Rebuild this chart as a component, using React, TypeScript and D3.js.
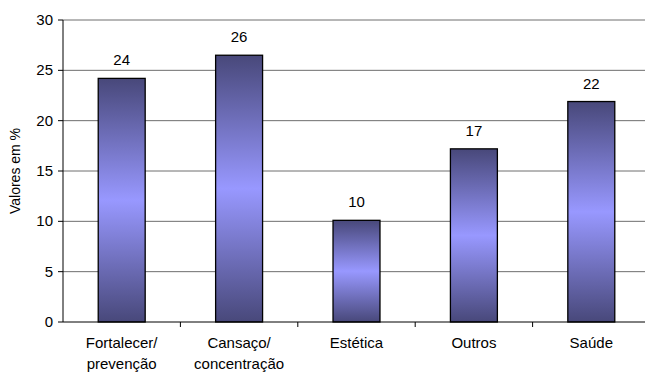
import React, { useRef, useEffect } from 'react';
import * as d3 from 'd3';

const categories: string[][] = [
  ['Fortalecer/', 'prevenção'],
  ['Cansaço/', 'concentração'],
  ['Estética'],
  ['Outros'],
  ['Saúde'],
];
const values = [24.2, 26.5, 10.1, 17.2, 21.9];
const valueLabels = ['24', '26', '10', '17', '22'];
const yTicks = [0, 5, 10, 15, 20, 25, 30];

const WIDTH = 645;
const HEIGHT = 372;

export default function App() {
  const svgRef = useRef<SVGSVGElement>(null);

  useEffect(() => {
    if (!svgRef.current) return;
    const svg = d3.select(svgRef.current);
    svg.selectAll('*').remove();

    const left = 63;
    const right = 650;
    const top = 20;
    const bottom = 322;
    const font = 'Liberation Sans, Arial, sans-serif';
    const fs = 15;

    const x = d3
      .scaleBand<number>()
      .domain(categories.map((_, i) => i))
      .range([left, right])
      .paddingInner(0.6)
      .paddingOuter(0.3);

    const y = d3.scaleLinear().domain([0, 30]).range([bottom, top]);

    // gradient for bars
    const defs = svg.append('defs');
    const grad = defs
      .append('linearGradient')
      .attr('id', 'barGrad')
      .attr('x1', 0)
      .attr('y1', 0)
      .attr('x2', 0)
      .attr('y2', 1);
    grad.append('stop').attr('offset', '0%').attr('stop-color', '#48487a');
    grad.append('stop').attr('offset', '50%').attr('stop-color', '#9898ff');
    grad.append('stop').attr('offset', '100%').attr('stop-color', '#48487a');

    // grid lines
    svg
      .append('g')
      .selectAll('line')
      .data(yTicks.filter((t) => t > 0))
      .enter()
      .append('line')
      .attr('x1', left)
      .attr('x2', right)
      .attr('y1', (d) => y(d))
      .attr('y2', (d) => y(d))
      .attr('stroke', '#6e6e6e')
      .attr('stroke-width', 1);

    // bars
    svg
      .append('g')
      .selectAll('rect')
      .data(values)
      .enter()
      .append('rect')
      .attr('x', (_, i) => x(i)!)
      .attr('y', (d) => y(d))
      .attr('width', x.bandwidth())
      .attr('height', (d) => bottom - y(d))
      .attr('fill', 'url(#barGrad)')
      .attr('stroke', '#000')
      .attr('stroke-width', 1.3);

    // value labels
    svg
      .append('g')
      .selectAll('text')
      .data(values)
      .enter()
      .append('text')
      .attr('x', (_, i) => x(i)! + x.bandwidth() / 2)
      .attr('y', (d) => y(d) - 13)
      .attr('text-anchor', 'middle')
      .attr('font-family', font)
      .attr('font-size', fs)
      .attr('fill', '#000')
      .text((_, i) => valueLabels[i]);

    // y axis
    const yAxis = svg.append('g');
    yAxis
      .append('line')
      .attr('x1', left)
      .attr('x2', left)
      .attr('y1', top)
      .attr('y2', bottom)
      .attr('stroke', '#000');
    yTicks.forEach((t) => {
      yAxis
        .append('line')
        .attr('x1', left - 5)
        .attr('x2', left)
        .attr('y1', y(t))
        .attr('y2', y(t))
        .attr('stroke', '#000');
      yAxis
        .append('text')
        .attr('x', left - 10)
        .attr('y', y(t) + 5)
        .attr('text-anchor', 'end')
        .attr('font-family', font)
        .attr('font-size', fs)
        .text(t);
    });

    svg
      .append('text')
      .attr('transform', `translate(20,${(top + bottom) / 2}) rotate(-90)`)
      .attr('text-anchor', 'middle')
      .attr('font-family', font)
      .attr('font-size', 14)
      .text('Valores em %');

    // x axis
    const xAxis = svg.append('g');
    xAxis
      .append('line')
      .attr('x1', left)
      .attr('x2', right)
      .attr('y1', bottom)
      .attr('y2', bottom)
      .attr('stroke', '#000');
    const bandStep = (right - left) / categories.length;
    categories.slice(1).forEach((_, i) => {
      const bx = left + bandStep * (i + 1);
      xAxis
        .append('line')
        .attr('x1', bx)
        .attr('x2', bx)
        .attr('y1', bottom)
        .attr('y2', bottom + 5)
        .attr('stroke', '#000');
    });

    categories.forEach((lines, i) => {
      lines.forEach((line, j) => {
        xAxis
          .append('text')
          .attr('x', x(i)! + x.bandwidth() / 2)
          .attr('y', 348 + j * 21)
          .attr('text-anchor', 'middle')
          .attr('font-family', font)
          .attr('font-size', fs)
          .text(line);
      });
    });
  }, []);

  return (
    <svg
      ref={svgRef}
      width={WIDTH}
      height={HEIGHT}
      style={{ position: 'absolute', left: 0, top: 0, background: '#fff' }}
    />
  );
}
